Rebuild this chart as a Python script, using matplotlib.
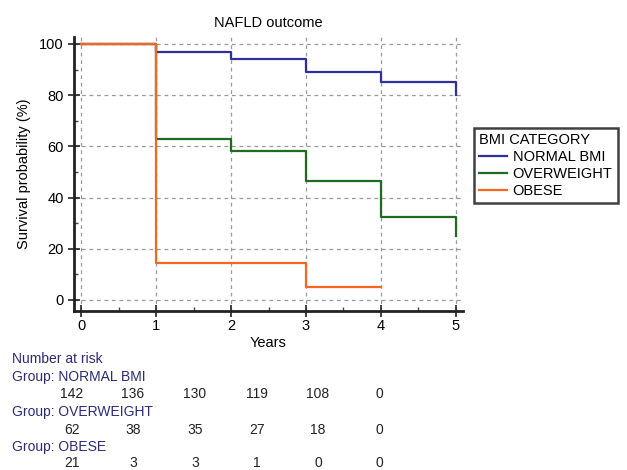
import matplotlib
matplotlib.use("Agg")
import matplotlib.pyplot as plt
from matplotlib.ticker import MultipleLocator

plt.rcParams['font.family'] = ['Liberation Sans', 'DejaVu Sans']

# survival curves (Kaplan-Meier)
t_normal = [0, 1, 2, 3, 4, 5]
s_normal = [100, 97, 94, 89, 85, 80]
t_over = [0, 1, 2, 3, 4, 5]
s_over = [100, 63, 58, 46.5, 32.5, 25]
t_obese = [0, 1, 3, 4]
s_obese = [100, 14.5, 5, 5]

groups = ["NORMAL BMI", "OVERWEIGHT", "OBESE"]
colors = ["#30309c", "#1e6b22", "#f7661e"]

# number at risk table
risk_years = [0, 1, 2, 3, 4, 5]
risk_normal = [142, 136, 130, 119, 108, 0]
risk_over = [62, 38, 35, 27, 18, 0]
risk_obese = [21, 3, 3, 1, 0, 0]

fig = plt.figure(figsize=(6.27, 4.70), dpi=100)
W, H = 627, 470
ax = fig.add_axes([74 / W, 1 - 311 / H, (463 - 74) / W, (311 - 37) / H])

for t, s, c, g in zip([t_normal, t_over, t_obese], [s_normal, s_over, s_obese], colors, groups):
    ax.step(t, s, where='post', color=c, lw=1.6, label=g, zorder=3)

ax.set_xlim(-0.1, 5.1)
ax.set_ylim(-4.3, 102.7)
ax.xaxis.set_major_locator(MultipleLocator(1))
ax.xaxis.set_minor_locator(MultipleLocator(0.5))
ax.yaxis.set_major_locator(MultipleLocator(20))
ax.yaxis.set_minor_locator(MultipleLocator(10))
ax.set_yticks([0, 20, 40, 60, 80, 100])
ax.grid(True, which='major', ls=(0, (3, 3)), color='#999999', lw=0.9)

for sp in ['top', 'right']:
    ax.spines[sp].set_visible(False)
for sp in ['left', 'bottom']:
    ax.spines[sp].set_linewidth(2)
    ax.spines[sp].set_color('#222222')

ax.tick_params(which='major', direction='inout', length=8, width=1.2, labelsize=10.5, color='#222222')
ax.tick_params(which='minor', direction='in', length=3, width=1, color='#444444')
ax.tick_params(axis='x', pad=2)

ax.set_title("NAFLD outcome", fontsize=10.5, pad=7)
ax.set_xlabel("Years", fontsize=10.5, labelpad=2)
ax.set_ylabel("Survival probability (%)", fontsize=10.5, labelpad=6)

leg = fig.legend(loc='upper left', bbox_to_anchor=(474 / W, 1 - 128 / H), title="BMI CATEGORY",
                 fontsize=10.5, title_fontsize=10.5, frameon=True, fancybox=False,
                 handlelength=1.9, handletextpad=0.4, borderpad=0.35, labelspacing=0.2,
                 borderaxespad=0)
leg._legend_box.align = "left"
leg.get_frame().set_edgecolor('#111111')
leg.get_frame().set_linewidth(1.8)

# number at risk
navy = '#2b2b7a'
fig.text(12 / W, 1 - 359 / H, "Number at risk", color=navy, fontsize=10, va='center')
col_x = [72, 133, 195, 257, 318, 379]
rows = [("Group: NORMAL BMI", risk_normal, 377, 394),
        ("Group: OVERWEIGHT", risk_over, 412, 430),
        ("Group: OBESE", risk_obese, 447, 463)]
for name, vals, yl, yn in rows:
    fig.text(12 / W, 1 - yl / H, name, color=navy, fontsize=10, va='center')
    for x, v in zip(col_x, vals):
        fig.text(x / W, 1 - yn / H, str(v), color='#222222', fontsize=10, va='center', ha='center')

fig.savefig("out.png", dpi=100)
